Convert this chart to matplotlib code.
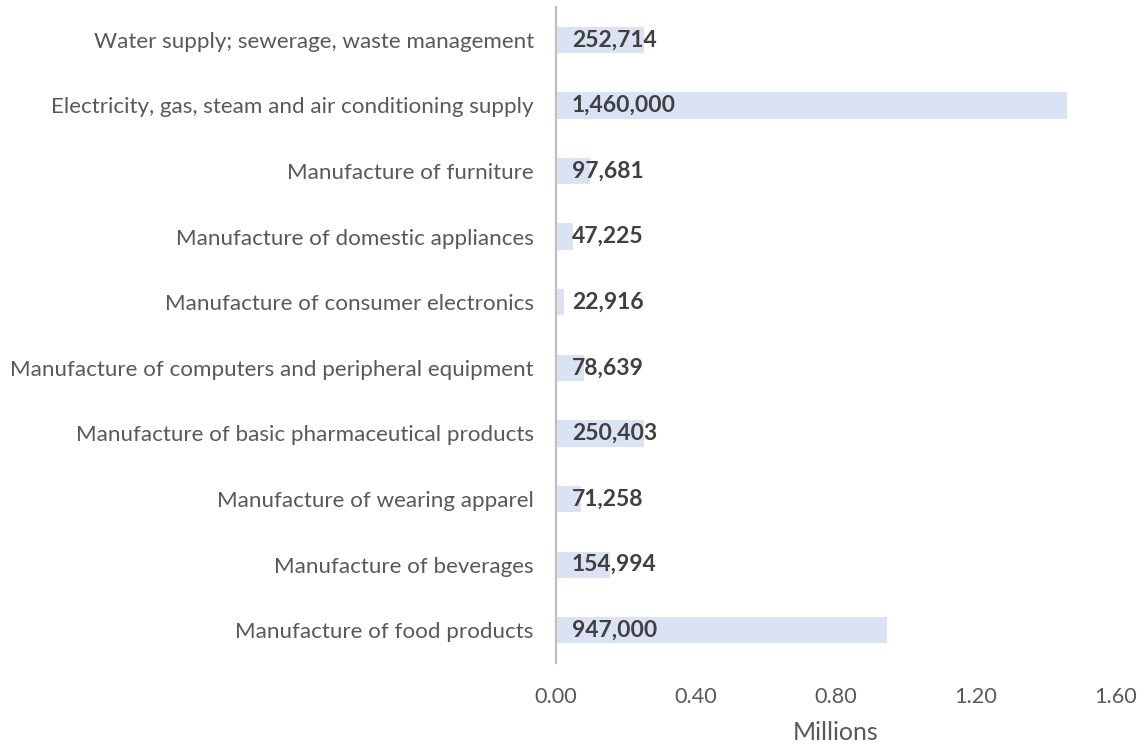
import matplotlib
matplotlib.use("Agg")
import matplotlib.pyplot as plt
from matplotlib.ticker import FuncFormatter

plt.rcParams['font.family'] = ['Lato', 'DejaVu Sans']

categories = [
    "Manufacture of food products",
    "Manufacture of beverages",
    "Manufacture of wearing apparel",
    "Manufacture of basic pharmaceutical products",
    "Manufacture of computers and peripheral equipment",
    "Manufacture of consumer electronics",
    "Manufacture of domestic appliances",
    "Manufacture of furniture",
    "Electricity, gas, steam and air conditioning supply",
    "Water supply; sewerage, waste management",
]
values = [947000, 154994, 71258, 250403, 78639, 22916, 47225, 97681, 1460000, 252714]
xticks = [0.0, 400000, 800000, 1200000, 1600000]

fig = plt.figure(figsize=(11.45, 7.45), dpi=100)
ax = fig.add_axes([0.4856, 0.110, 0.4891, 0.8806])

pos = list(range(len(categories)))
ax.barh(pos, values, height=0.4, color="#DAE3F3")
for y, v in zip(pos, values):
    ax.annotate(f"{v:,}", xy=(0, y), xytext=(11.5, 0), textcoords="offset points",
                ha="left", va="center", fontsize=16.5, fontweight="bold", color="#404040")

ax.set_ylim(-0.5, len(categories) - 0.5)
ax.set_xlim(0, 1600000)
ax.set_yticks(pos)
ax.set_yticklabels(categories, fontsize=16.1, color="#595959")
ax.set_xticks(xticks)
ax.xaxis.set_major_formatter(FuncFormatter(lambda x, _: f"{x/1e6:.2f}"))
ax.tick_params(axis="x", labelsize=15.6, labelcolor="#595959", length=0, pad=17)
ax.tick_params(axis="y", length=0, pad=16)
ax.set_xlabel("Millions", fontsize=18, color="#595959", labelpad=10)

for s in ["top", "right", "bottom"]:
    ax.spines[s].set_visible(False)
ax.spines["left"].set_color("#BFBFBF")
ax.spines["left"].set_linewidth(1.6)

fig.savefig("out.png", dpi=100, facecolor="white")
